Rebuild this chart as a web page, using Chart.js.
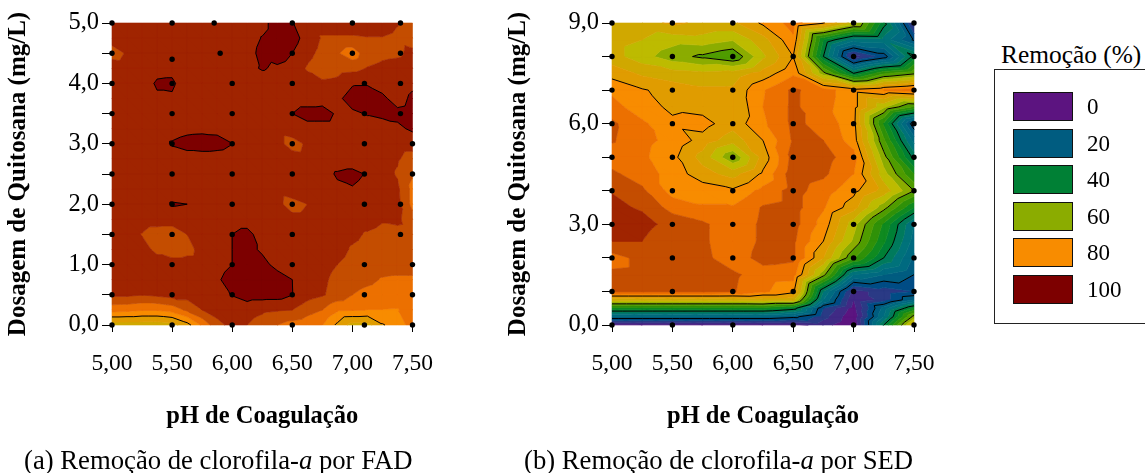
<!DOCTYPE html>
<html>
<head>
<meta charset="utf-8">
<script src="https://cdn.jsdelivr.net/npm/chart.js@4"></script>
<style>
  body { margin: 0; background: #fff; font-family: "Liberation Serif", serif; color: #000; }
  #page { position: relative; width: 1145px; height: 473px; overflow: hidden; }
  canvas { position: absolute; top: 0; }
  .caption { position: absolute; top: 445px; font-size: 26.7px; line-height: 30px; white-space: nowrap; }
  #legendTitle { position: absolute; left: 1001px; top: 40px; font-size: 25.4px; line-height: 28px; white-space: nowrap; }
  #legendBox { position: absolute; left: 994px; top: 69px; width: 160px; height: 253px; border: 1px solid #222; }
  .swatch { position: absolute; left: 18px; width: 58px; height: 27px; border: 1px solid #111; }
  .swatchLabel { position: absolute; left: 92px; font-size: 23px; line-height: 28px; }
</style>
</head>
<body>
<div id="page">
  <canvas id="fadChart" width="500" height="473" style="left:0"></canvas>
  <canvas id="sedChart" width="500" height="473" style="left:500px"></canvas>
  <div class="caption" style="left:24px">(a) Remoção de clorofila-<i>a</i> por FAD</div>
  <div class="caption" style="left:524px">(b) Remoção de clorofila-<i>a</i> por SED</div>
  <div id="legendTitle">Remoção (%)</div>
  <div id="legendBox"></div>
</div>
<script>
// legenda
const legendLabels = ['0', '20', '40', '60', '80', '100'];
const legendColors = ['#5c1480', '#005c80', '#008035', '#8bac00', '#f88c00', '#7d0000'];

// faixas de remoção (5 em 5) e linhas pretas (20 em 20)
const bandLevels = [0, 5, 10, 15, 20, 25, 30, 35, 40, 45, 50, 55, 60, 65, 70, 75, 80, 85, 90, 95, 100];
const bandColors = ['#5c1480', '#402a85', '#2a3a85', '#004c85', '#005c80', '#006a80', '#00727a', '#007a5c',
  '#008035', '#0f8a20', '#2f9108', '#4f9c00', '#8bac00', '#bdbb00', '#d0a800', '#e09c00',
  '#f88c00', '#ec7000', '#c44d00', '#a02400', '#7d0000'];
const lineLevels = [20, 40, 60, 80, 100];

// (a) FAD - malha, linhas de cima para baixo
const fadPh = [5, 5.125, 5.25, 5.375, 5.5, 5.625, 5.75, 5.875, 6, 6.125, 6.25, 6.375, 6.5, 6.625, 6.75, 6.875, 7, 7.125, 7.25, 7.375, 7.5];
const fadDose = [5, 4.75, 4.5, 4.25, 4, 3.75, 3.5, 3.25, 3, 2.75, 2.5, 2.25, 2, 1.75, 1.5, 1.25, 1, 0.75, 0.5, 0.25, 0];
const fadRemocao = [
  [97,97,97,97,97,97,97,97,97,97,98,103,100.3,97,97,97,97,97,97,95.3,92],
  [97,97,97,97,97,97,97,97,97,97.5,100.3,103,102,98,94.5,94.5,94.5,94.8,94.8,94,93],
  [93,95.5,97,97,97,97,97,97,97,98,101.5,103,100,96.5,93.5,90.5,87,93,94,94.3,96],
  [98,97,97,99,99,97,97,97,97,98.5,100.5,99,97.5,94.5,92,93,93.5,95.2,96,96.5,97],
  [97,97,98.5,100.4,100.6,98,97,97,97,97,97,97,97,97,96,96.5,99.5,99.5,98,97,99],
  [97,97,97,99.5,99.5,97,97,97,97,97,97,97,97.5,97.5,98,99,102,103,101,98,101],
  [97,97,97,97,97,97,97,97,97,97,97,98,100,102,102,99.3,99.2,100.3,101,101.3,102],
  [97,97,97,97,97.5,98.5,98.7,98.5,97.5,97,97,97,98.5,98,98,98,98,98,98,99,100.8],
  [97,97,97,97,100.6,102,102.5,102,100.1,97,97,97,92.5,96,97,97,97,97,97,97,97],
  [97,97,97,97,97,97.5,97.5,97.5,97,97,97,97,98,97,97,97,97,97,97,95.5,93],
  [97,97,97,97,97,97,97,97,97,97,97,97,97,97,98,100.6,101.5,99.5,97,94.5,90.5],
  [97,97,97,97,97,97,97,97,97,97,97,97,99,97,97.5,99,99.6,98,97,96,88.5],
  [97,97,97,97,100.5,100,97,97,97,97,97,96.5,92.5,95,97,97,97,97,97,96.5,88.5],
  [97,97,97,97,97,97,97,97,97,97,97,97,97,97,97,97,97,97,95.5,96,92],
  [97,97,94.8,93,92.5,95,97,96.5,100,102,97,97,97,97,97,97,96,94.5,93.5,93.5,93],
  [97,97,96.5,94,92.5,93.5,96.5,97,100,102,99,97,97,97,97,96.5,94.5,93.5,93.5,93.5,94],
  [97,97,97,97,97,97,97,97,100,103,102,98,97,97,97,95,93.5,93,92.5,92.5,92.5],
  [97,97,97,97,97,97,97,99,103,104,104,103,100,97,96,93.5,93,91.5,89.5,89,89],
  [96,96,95.2,96,97,97,97,98,100.3,102,102,102,100.1,97,95.5,93,90,88,87,86.5,87],
  [87,86.5,85.5,85.5,87,91,95,97,97.5,97.5,96,95.5,95,92,90,85.8,85.5,84.9,84.9,84.8,86.5],
  [72,72,72,72,73,78,86,93.5,96.5,95,92.5,90,88,87,85.2,79,73,73,79.5,82.5,87]
];
const fadPointX = [5,5.5,5.85,6.5,7,7.4, 5,5.9,6.5,7,7.4, 5.5, 5,5.5,6,6.5,7.1,7.4, 5,5.5,6,6.5,7.1,7.4,
  5,5.5,6,6.5,7.1,7.5, 5,5.5,6,6.5,7.1,7.5, 5,5.5,6,6.5,7.1,7.4, 5,5.5,6,6.5,7.4, 5,5.5,6,6.5,7.1,7.5,
  5,5.5,6,6.5,7.1,7.5, 5,5.5,6,6.5,7.1,7.5];
const fadPointY = [5,5,5,5,5,5, 4.5,4.5,4.5,4.5,4.5, 4.4, 4,4,4,4,4,4, 3.5,3.5,3.5,3.5,3.5,3.5,
  3,3,3,3,3,3, 2.5,2.5,2.5,2.5,2.5,2.5, 2,2,2,2,2,2, 1.5,1.5,1.5,1.5,1.5, 1,1,1,1,1,1,
  0.5,0.5,0.5,0.5,0.5,0.5, 0,0,0,0,0,0];

// (b) SED
const sedPh = [5, 5.25, 5.5, 5.75, 6, 6.25, 6.5, 6.75, 7, 7.25, 7.5];
const sedDose = [9, 8.5, 8, 7.5, 7, 6.5, 6, 5.5, 5, 4.5, 4, 3.5, 3, 2.5, 2, 1.5, 1, 0.75, 0.5, 0.25, 0];
const sedRemocao = [
  [72,73,76,74,74,81,87,80.5,68,42,8],
  [72,70,67,68,65.5,73,84,45,32,33,19],
  [72,67,62,59,55.5,69,80,40,7,17,42],
  [78,74,72,71,72,77,84,62,40,54,59],
  [84,80.5,78,76,76,84.5,91,87,82,85,88],
  [87,82,79,78,75,85,91,86.5,82,66,54],
  [91,86,81,82,77,84,91,88.5,81.5,49,16],
  [90.5,86.5,83.5,78,72,80,90.5,90,82.5,56,28],
  [87.5,86,81.5,73,60.5,77,92,92,87,62,38],
  [91,87.5,83,77,73,81,93,91,85,67,50],
  [94.8,91,83,83,81,86.5,92,87.5,81.5,73,60],
  [96,94.5,88,85.5,85.5,90.5,92,85.5,77,62,45],
  [97,96.5,93.5,91,86.5,91,92,83,67,49,30],
  [95,95,91.5,91,86.5,91,91,80,64,46,28],
  [88,91.5,92,91.5,87,92,91,75,55.5,40,24],
  [91,91.5,91.5,91.5,91,87.5,87,62,30,25,20],
  [91,91,91,91,90.5,86,81.5,35,8,12,15],
  [71,71,71,71,71,72,72,30,5,12,25],
  [48,48,48,48,48,48,43,15,3,27,46],
  [25,25,25,25,25,25,22,12,1,30,62],
  [3,3,3,3,3,3,3,7,0,40,74]
];
const sedPointPh = [5, 5.5, 6, 6.5, 7, 7.5];
const sedPointDose = [9, 8, 7, 6, 5, 4, 3, 2, 1, 0];

// corta um poligono [x, y, z] mantendo a parte acima (ou abaixo) do nivel
function clipPoly(poly, level, keepAbove) {
  let out = [];
  for (let i = 0; i < poly.length; i++) {
    let a = poly[i], b = poly[(i + 1) % poly.length];
    let aIn = keepAbove ? a[2] >= level : a[2] < level;
    let bIn = keepAbove ? b[2] >= level : b[2] < level;
    if (aIn) out.push(a);
    if (aIn !== bIn) {
      let t = (level - a[2]) / (b[2] - a[2]);
      out.push([a[0] + t * (b[0] - a[0]), a[1] + t * (b[1] - a[1]), level]);
    }
  }
  return out;
}

function contourPlugin(phs, doses, values) {
  return {
    id: 'contour',
    beforeDatasetsDraw(chart) {
      let ctx = chart.ctx, sx = chart.scales.x, sy = chart.scales.y;
      let tris = [];
      for (let r = 0; r < doses.length - 1; r++) {
        for (let c = 0; c < phs.length - 1; c++) {
          let node = (rr, cc) => [sx.getPixelForValue(phs[cc]), sy.getPixelForValue(doses[rr]), values[rr][cc]];
          let a = node(r, c), b = node(r, c + 1), d = node(r + 1, c + 1), e = node(r + 1, c);
          tris.push([a, b, d], [a, d, e]);
        }
      }
      ctx.save();
      bandColors.forEach(function(color, i) {
        ctx.beginPath();
        tris.forEach(function(tri) {
          let poly = tri;
          if (i > 0) poly = clipPoly(poly, bandLevels[i], true);
          if (i < bandColors.length - 1 && poly.length) poly = clipPoly(poly, bandLevels[i + 1], false);
          if (poly.length < 3) return;
          ctx.moveTo(poly[0][0], poly[0][1]);
          for (let k = 1; k < poly.length; k++) ctx.lineTo(poly[k][0], poly[k][1]);
          ctx.closePath();
        });
        ctx.fillStyle = color;
        ctx.strokeStyle = color;
        ctx.lineWidth = 0.6;
        ctx.fill();
        ctx.stroke();
      });
      ctx.beginPath();
      lineLevels.forEach(function(level) {
        tris.forEach(function(tri) {
          let pts = [];
          for (let k = 0; k < 3; k++) {
            let p = tri[k], q = tri[(k + 1) % 3];
            if ((p[2] >= level) !== (q[2] >= level)) {
              let t = (level - p[2]) / (q[2] - p[2]);
              pts.push([p[0] + t * (q[0] - p[0]), p[1] + t * (q[1] - p[1])]);
            }
          }
          if (pts.length === 2) {
            ctx.moveTo(pts[0][0], pts[0][1]);
            ctx.lineTo(pts[1][0], pts[1][1]);
          }
        });
      });
      ctx.strokeStyle = '#000';
      ctx.lineWidth = 1;
      ctx.stroke();
      ctx.restore();
    }
  };
}

function makeChart(id, pontos, yMax, yStep, yLabelEvery, rightPad, grid) {
  const xFont = { family: '"Liberation Serif", serif', size: 23.5 };
  const yFont = { family: '"Liberation Serif", serif', size: 24.5 };
  new Chart(document.getElementById(id).getContext('2d'), {
    type: 'scatter',
    data: {
      datasets: [{
        data: pontos,
        clip: false,
        pointRadius: 2.7,
        pointHoverRadius: 2.7,
        pointBackgroundColor: '#000',
        pointBorderWidth: 0
      }]
    },
    options: {
      responsive: false,
      animation: false,
      layout: { padding: { top: 23, right: rightPad, bottom: 0, left: 0 } },
      plugins: { legend: { display: false }, tooltip: { enabled: false } },
      scales: {
        x: {
          min: 5, max: 7.5,
          afterFit(s) { s.height = 148; },
          border: { display: false },
          grid: { drawOnChartArea: false, drawTicks: true, tickLength: 7, color: '#000' },
          ticks: {
            stepSize: 0.5, padding: 18, color: '#000', font: xFont, maxRotation: 0, autoSkip: false,
            callback: v => v.toFixed(2).replace('.', ',')
          },
          title: {
            display: true, text: 'pH de Coagulação', color: '#000',
            font: { family: '"Liberation Serif", serif', size: 24.5, weight: 'bold' },
            padding: { top: 0, bottom: 42 }
          }
        },
        y: {
          min: 0, max: yMax,
          afterFit(s) { s.width = 112; },
          border: { display: false },
          grid: { drawOnChartArea: false, drawTicks: true, tickLength: 10, color: '#000' },
          ticks: {
            stepSize: yStep, padding: 3, color: '#000', font: yFont, autoSkip: false,
            callback: v => Math.abs(v / yLabelEvery - Math.round(v / yLabelEvery)) < 1e-6 ? v.toFixed(1).replace('.', ',') : ''
          },
          title: {
            display: true, text: 'Dosagem de Quitosana (mg/L)', color: '#000',
            font: { family: '"Liberation Serif", serif', size: 25, weight: 'bold' },
            padding: { top: 4, bottom: 0 }
          }
        }
      }
    },
    plugins: [contourPlugin(grid.ph, grid.dose, grid.values)]
  });
}

document.addEventListener('DOMContentLoaded', function() {
  let fadPontos = fadPointX.map((x, i) => ({ x: x, y: fadPointY[i] }));
  let sedPontos = [];
  sedPointDose.forEach(d => sedPointPh.forEach(p => sedPontos.push({ x: p, y: d })));
  makeChart('fadChart', fadPontos, 5, 0.5, 1, 87.5, { ph: fadPh, dose: fadDose, values: fadRemocao });
  makeChart('sedChart', sedPontos, 9, 1, 3, 86, { ph: sedPh, dose: sedDose, values: sedRemocao });

  let box = document.getElementById('legendBox');
  legendLabels.forEach(function(label, i) {
    let top = 22 + i * 36.6;
    let sw = document.createElement('div');
    sw.className = 'swatch';
    sw.style.top = top + 'px';
    sw.style.background = legendColors[i];
    box.appendChild(sw);
    let tx = document.createElement('div');
    tx.className = 'swatchLabel';
    tx.style.top = top + 1 + 'px';
    tx.textContent = label;
    box.appendChild(tx);
  });
});
</script>
</body>
</html>
